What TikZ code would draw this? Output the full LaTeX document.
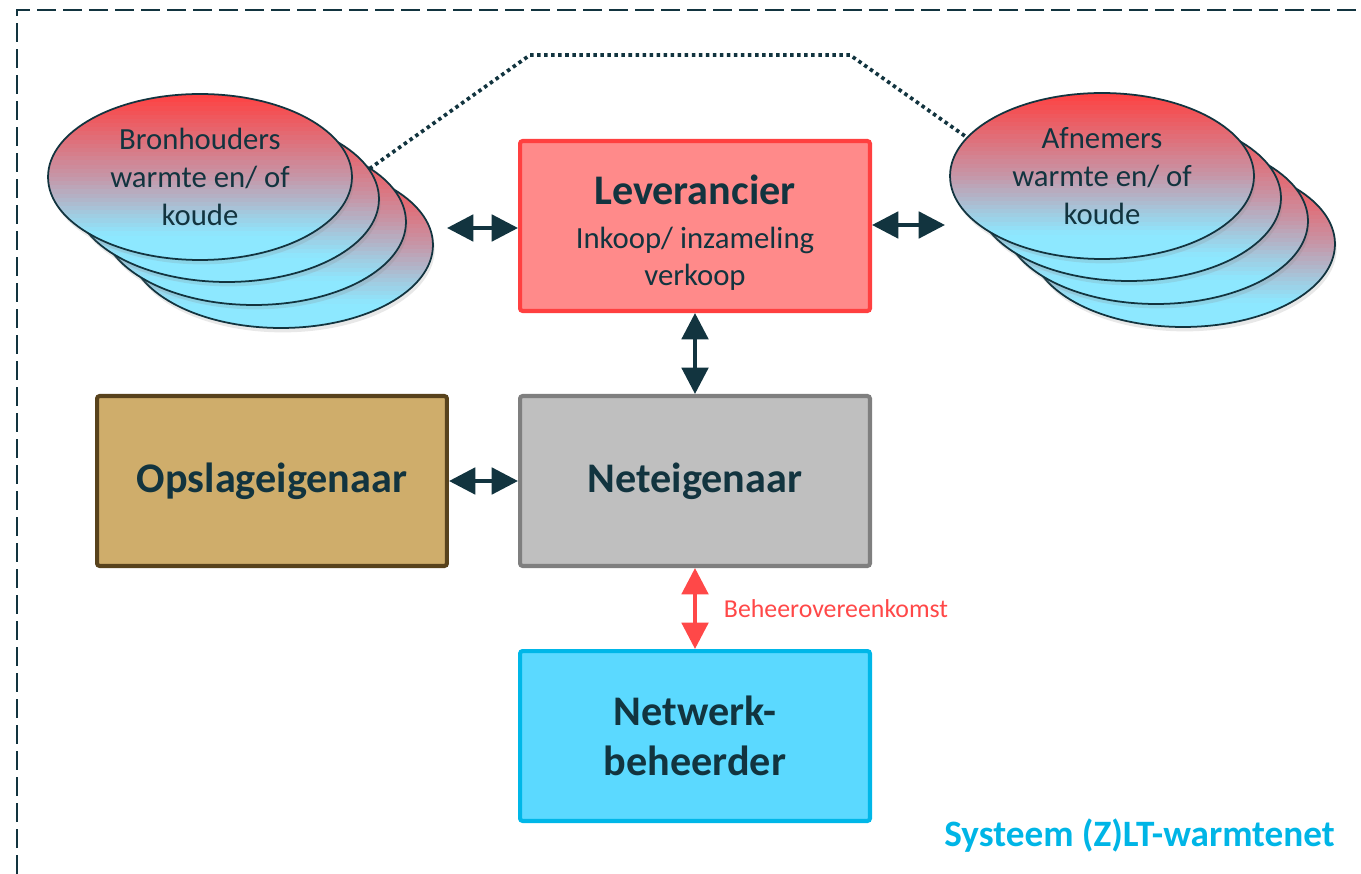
\documentclass[tikz,border=0pt]{standalone}
\usepackage{fontspec}
\setmainfont{Carlito}
\usetikzlibrary{arrows.meta,shadows,shapes.geometric}

\definecolor{darktext}{RGB}{18,52,63}
\definecolor{levfill}{RGB}{255,138,138}
\definecolor{levdraw}{RGB}{255,64,64}
\definecolor{netfill}{RGB}{191,191,191}
\definecolor{netdraw}{RGB}{127,127,127}
\definecolor{opsfill}{RGB}{207,173,107}
\definecolor{opsdraw}{RGB}{88,66,28}
\definecolor{nwbfill}{RGB}{91,217,255}
\definecolor{nwbdraw}{RGB}{0,183,232}
\definecolor{ellred}{RGB}{255,64,64}
\definecolor{ellmid}{RGB}{198,150,168}
\definecolor{ellcyan}{RGB}{141,232,255}
\definecolor{redarrow}{RGB}{255,72,72}
\definecolor{systext}{RGB}{0,181,230}

\begin{document}
\begin{tikzpicture}[
        x=0.02cm, y=-0.02cm,
        box/.style={rectangle, rounded corners=1.5pt, minimum width=7cm, minimum height=3.4cm, align=center, line width=2.3pt, text=darktext, font=\fontsize{24}{28.5}\selectfont\bfseries},
        ell/.style={ellipse, minimum width=6.08cm, minimum height=3.32cm, inner sep=0pt, draw=darktext, line width=1pt, align=center, text=darktext, font=\fontsize{17.5}{21.5}\selectfont,
            drop shadow={opacity=0.18, shadow xshift=1pt, shadow yshift=-2.5pt},
            path picture={
                \fill[ellcyan] (path picture bounding box.south west) rectangle (path picture bounding box.east);
                \foreach \k [evaluate=\k as \p using \k*5+2.5] in {0,...,19}
                    \fill[ellmid!\p!ellred] ([yshift={-\k*0.083cm}]path picture bounding box.north west) rectangle ([yshift={-(\k+1.2)*0.083cm}]path picture bounding box.north east);
                \foreach \k [evaluate=\k as \p using (\k+0.5)*100/14] in {0,...,13}
                    \fill[ellcyan!\p!ellmid] ([yshift={-(\k+20)*0.083cm}]path picture bounding box.north west) rectangle ([yshift={-(\k+21.2)*0.083cm}]path picture bounding box.north east);
            }},
        dblarrow/.style={{Triangle[length=15pt,width=15pt]}-{Triangle[length=15pt,width=15pt]}, line width=2.3pt, draw=darktext},
        frame/.style={draw=darktext, line width=1.4pt, dash pattern=on 10.8pt off 4pt}
    ]
        \useasboundingbox (0,0) rectangle (1361,874);
        \draw[frame] (17,874) -- (17,10) -- (1361,10);

        % ellipse stacks
        \foreach \i in {3,2,1} {
            \node (bron\i) [ell] at ({200+27*\i},{176+23*\i}) {};
            \node (afn\i) [ell] at ({1102+27*\i},{175+23*\i}) {};
        }
        \node (bron0) [ell] at (200,177) {Bronhouders\\warmte en/ of\\koude};
        \node (afn0) [ell] at (1102,176) {Afnemers\\warmte en/ of\\koude};

        \node (lev) [box, fill=levfill, draw=levdraw, font=\fontsize{17.5}{20.5}\selectfont] at (695,226) {\rule{0pt}{24pt}{\fontsize{24}{28.5}\selectfont\bfseries Leverancier}\\[5pt]Inkoop/ inzameling\\verkoop};
        \node (net) [box, fill=netfill, draw=netdraw] at (695,481) {Neteigenaar};
        \node (ops) [box, fill=opsfill, draw=opsdraw] at (272,481) {Opslageigenaar};
        \node (nwb) [box, fill=nwbfill, draw=nwbdraw] at (695,736) {Netwerk-\\beheerder};

        \coordinate (bronEnd) at (447,228);
        \coordinate (afnEnd) at (945,225);
        \coordinate (dotL) at (530,55);
        \coordinate (dotR) at (850,55);

        \draw[darktext, line width=2.1pt, dash pattern=on 2pt off 2pt] (bron1.12) -- (dotL) -- (dotR) -- (afn0.164);

        \draw[dblarrow] (bronEnd) -- (lev.west |- bronEnd);
        \draw[dblarrow] (lev.east |- afnEnd) -- (afnEnd);
        \draw[dblarrow] (lev) -- (net);
        \draw[dblarrow] (ops) -- (net);
        \draw[dblarrow, draw=redarrow] (net) -- node[right=12pt, text=redarrow, font=\fontsize{14.7}{17}\selectfont] {Beheerovereenkomst} (nwb);

        \node (sys) [anchor=east, text=systext, font=\fontsize{21.2}{25}\selectfont\bfseries] at (1341,836) {Systeem (Z)LT-warmtenet};
    \end{tikzpicture}
\end{document}
